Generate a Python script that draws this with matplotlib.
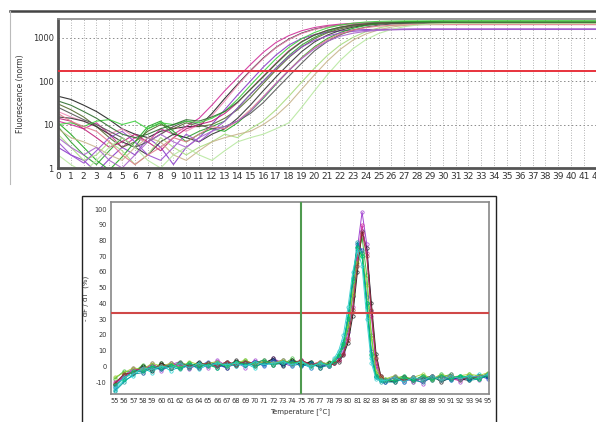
import numpy as np
import matplotlib
matplotlib.use('Agg')
import matplotlib.pyplot as plt
from matplotlib.lines import Line2D

plt.rcParams['font.family'] = ['Liberation Sans Narrow', 'DejaVu Sans']

# ---------------- amplification data (fluorescence per cycle 0..42) ----------------
cycles = list(range(43))
amp_colors = ['#222222', '#d0309a', '#30a030', '#8a3cc8', '#f08ab8', '#556b2f',
              '#333333', '#22aa22', '#c0207a', '#a8dc80', '#c8b48c', '#9b4fd0',
              '#555555', '#40d040', '#e07c8c', '#b8e8a0', '#2f6f2f', '#aa66cc']
amp_curves = [
    [45, 38, 28, 20, 13, 8, 6, 5, 7, 8, 9, 9, 18, 40, 85, 175, 340, 600, 930, 1280,
     1580, 1820, 1980, 2080, 2140, 2170, 2190, 2200, 2200, 2210, 2210, 2210, 2210, 2220, 2220, 2220,
     2220, 2220, 2220, 2230, 2230, 2230, 2230],
    [12, 10, 8, 11, 6, 3, 5, 4, 8, 6, 9, 14, 28, 60, 120, 240, 460, 780, 1120, 1450,
     1720, 1920, 2060, 2150, 2210, 2250, 2270, 2280, 2290, 2290, 2290, 2290, 2290, 2290, 2290, 2290,
     2290, 2290, 2290, 2290, 2290, 2290, 2290],
    [9, 4, 2, 1.2, 2.5, 5, 3, 8, 11, 6, 5, 7, 9, 12, 24, 50, 100, 200, 390, 680,
     1020, 1380, 1700, 1950, 2120, 2230, 2300, 2340, 2360, 2370, 2380, 2380, 2380, 2380, 2380, 2380,
     2380, 2380, 2380, 2380, 2380, 2380, 2380],
    [3, 2, 1.5, 0.8, 1.6, 3, 2, 5, 3, 1.2, 3, 5, 10, 22, 48, 100, 210, 400, 680, 960,
     1180, 1340, 1440, 1500, 1540, 1560, 1570, 1580, 1580, 1580, 1580, 1580, 1580, 1580, 1580, 1580,
     1580, 1580, 1580, 1580, 1580, 1580, 1580],
    [20, 15, 12, 9, 6, 8, 5, 4, 6, 9, 7, 10, 16, 35, 80, 170, 330, 590, 910, 1250,
     1550, 1790, 1950, 2050, 2110, 2140, 2160, 2170, 2170, 2180, 2180, 2180, 2180, 2180, 2180, 2180,
     2180, 2180, 2180, 2180, 2180, 2180, 2180],
    [30, 22, 15, 9, 5, 3, 4, 7, 10, 8, 11, 9, 10, 14, 22, 42, 88, 180, 350, 610,
     950, 1300, 1600, 1850, 2010, 2120, 2190, 2230, 2260, 2270, 2280, 2280, 2280, 2280, 2280, 2280,
     2280, 2280, 2280, 2280, 2280, 2280, 2280],
    [15, 14, 12, 9, 6, 4, 3, 2, 4, 6, 5, 4, 6, 8, 14, 28, 60, 125, 250, 480,
     800, 1150, 1480, 1750, 1950, 2070, 2140, 2180, 2200, 2210, 2210, 2210, 2210, 2210, 2210, 2210,
     2210, 2210, 2210, 2210, 2210, 2210, 2210],
    [11, 6, 3, 1.5, 0.9, 1.8, 4, 9, 12, 7, 4, 6, 8, 7, 11, 20, 40, 85, 175, 350,
     620, 960, 1320, 1650, 1920, 2100, 2220, 2300, 2350, 2380, 2400, 2400, 2400, 2400, 2400, 2400,
     2400, 2400, 2400, 2400, 2400, 2400, 2400],
    [14, 12, 8, 5, 3, 4, 6, 4, 2.5, 5, 8, 10, 12, 18, 32, 65, 130, 260, 500, 820,
     1160, 1480, 1740, 1940, 2070, 2150, 2200, 2230, 2240, 2250, 2250, 2250, 2250, 2250, 2250, 2250,
     2250, 2250, 2250, 2250, 2250, 2250, 2250],
    [6, 3, 1.5, 2, 4, 2.5, 1.2, 2, 5, 3, 2, 3, 4, 6, 5, 8, 12, 22, 45, 95,
     200, 390, 680, 1020, 1380, 1680, 1910, 2060, 2160, 2220, 2260, 2280, 2290, 2290, 2290, 2290,
     2290, 2290, 2290, 2290, 2290, 2290, 2290],
    [8, 5, 4, 3, 2, 1.5, 3, 5, 4, 2, 1.5, 2.5, 4, 5, 6, 7, 10, 16, 30, 65,
     140, 290, 540, 880, 1220, 1520, 1760, 1920, 2020, 2070, 2090, 2100, 2100, 2100, 2100, 2100,
     2100, 2100, 2100, 2100, 2100, 2100, 2100],
    [4, 2, 1.3, 2.5, 5, 7, 4, 2, 1.5, 3, 6, 4, 7, 12, 24, 50, 100, 200, 370, 610,
     870, 1100, 1280, 1400, 1470, 1510, 1530, 1540, 1550, 1550, 1550, 1550, 1550, 1550, 1550, 1550,
     1550, 1550, 1550, 1550, 1550, 1550, 1550],
    [25, 18, 13, 10, 7, 5, 3, 4, 6, 9, 12, 10, 8, 9, 12, 18, 32, 65, 130, 260,
     500, 820, 1170, 1500, 1760, 1950, 2070, 2140, 2180, 2200, 2200, 2200, 2200, 2200, 2200, 2200,
     2200, 2200, 2200, 2200, 2200, 2200, 2200],
    [10, 11, 9, 12, 13, 10, 12, 8, 11, 10, 12, 11, 14, 20, 38, 80, 165, 330, 600, 950,
     1320, 1680, 1960, 2160, 2300, 2380, 2420, 2440, 2450, 2450, 2450, 2450, 2450, 2450, 2450, 2450,
     2450, 2450, 2450, 2450, 2450, 2450, 2450],
    [18, 12, 9, 7, 4, 2, 1.2, 2, 3, 5, 4, 6, 9, 8, 12, 22, 44, 90, 180, 340,
     590, 900, 1220, 1500, 1710, 1850, 1930, 1970, 1990, 2000, 2000, 2000, 2000, 2000, 2000, 2000,
     2000, 2000, 2000, 2000, 2000, 2000, 2000],
    [2, 1.2, 0.8, 1.5, 3, 5, 3, 1.5, 1, 2, 3, 2, 1.5, 2.5, 4, 5, 6, 8, 11, 25,
     60, 140, 300, 560, 900, 1250, 1560, 1800, 1960, 2060, 2110, 2140, 2150, 2150, 2150, 2150,
     2150, 2150, 2150, 2150, 2150, 2150, 2150],
    [35, 28, 20, 14, 9, 6, 5, 6, 8, 10, 13, 12, 15, 20, 33, 64, 125, 250, 480, 800,
     1150, 1480, 1760, 1960, 2090, 2170, 2220, 2250, 2260, 2270, 2270, 2270, 2270, 2270, 2270, 2270,
     2270, 2270, 2270, 2270, 2270, 2270, 2270],
    [5, 3, 2, 3, 1.5, 1, 2, 4, 6, 4, 3, 5, 7, 9, 12, 20, 42, 88, 175, 330,
     560, 830, 1080, 1270, 1400, 1480, 1530, 1560, 1580, 1590, 1590, 1590, 1590, 1590, 1590, 1590,
     1590, 1590, 1590, 1590, 1590, 1590, 1590],
]
amp_threshold = 170

# ---------------- melt data (-dF/dT in %) ----------------
temps = list(range(55, 79)) + [78.5, 79, 79.5, 80, 80.5, 81, 81.5, 82, 82.5, 83, 83.5, 84] \
    + list(range(85, 96))
melt_colors = ['#9933cc', '#00cccc', '#33bb33', '#111111', '#2244cc', '#cc2299',
               '#99cc33', '#009999', '#993333', '#00cc66', '#33cccc']
melt_curves = [
    [-12, -6, -1, -4, 2, -3, 1, 3, -2, 2, -1, 4, 0, 3, -1, 4, 1, 5, 2, 0, 4, -1, 3, 0,
     2, 4, 9, 22, 45, 75, 98, 78, 35, 0, -8, -10,
     -6, -10, -7, -11, -6, -9, -5, -10, -6, -9, -5],
    [-15, -9, -6, -1, -4, 1, -3, 0, 2, -2, 1, -1, 3, 0, 2, -1, 3, 1, 4, 0, 2, -1, 2, 0,
     4, 8, 16, 32, 55, 76, 70, 38, 5, -7, -9, -9,
     -9, -6, -10, -7, -9, -5, -9, -6, -8, -5, -7],
    [-8, -3, -4, 1, -2, 2, -1, 3, 0, 2, 1, -1, 3, 1, 4, 0, 2, 4, 1, 5, 1, 3, 0, 3,
     3, 6, 12, 24, 45, 70, 82, 58, 20, -4, -8, -8,
     -8, -6, -9, -6, -8, -7, -5, -9, -5, -8, -4],
    [-11, -5, -4, 0, -3, 2, -1, 2, -1, 3, 0, 2, -1, 4, 1, 3, 2, 5, 0, 4, 1, 3, -1, 2,
     2, 3, 7, 15, 32, 60, 86, 75, 40, 8, -6, -9,
     -10, -7, -9, -8, -6, -10, -7, -8, -9, -6, -7],
    [-13, -7, -3, -3, 0, -2, 2, -1, 1, 0, 3, 1, -1, 2, 1, 3, 0, 4, 1, 3, 0, 2, 1, 0,
     3, 6, 13, 28, 52, 78, 74, 44, 10, -6, -9, -10,
     -7, -10, -7, -9, -8, -6, -9, -7, -8, -6, -8],
    [-10, -7, -2, -2, 1, -1, 2, 0, 2, -1, 2, 0, 3, 1, 3, 1, 3, 2, 4, 1, 4, 1, 3, 1,
     2, 4, 8, 18, 38, 68, 90, 72, 32, 2, -7, -9,
     -9, -7, -10, -6, -9, -6, -8, -9, -6, -7, -5],
    [-7, -4, -1, -2, 2, 0, 2, -1, 3, 1, 2, 3, 0, 2, 4, 1, 3, 2, 4, 2, 3, 0, 3, 1,
     4, 7, 14, 26, 46, 66, 72, 52, 18, -3, -7, -8,
     -6, -8, -7, -5, -8, -5, -7, -6, -5, -6, -4],
    [-16, -10, -5, -4, -1, -2, 0, -2, 1, -1, 2, -1, 2, 0, 3, 0, 2, 1, 2, 3, 0, 2, -1, 1,
     3, 7, 15, 31, 56, 79, 72, 40, 7, -7, -10, -10,
     -10, -8, -9, -10, -7, -9, -8, -6, -9, -8, -6],
    [-11, -5, -4, -1, -2, 1, -1, 2, 0, 1, 2, 0, 3, 1, 3, 2, 4, 1, 3, 2, 4, 1, 2, 0,
     2, 4, 8, 17, 36, 64, 85, 70, 36, 5, -6, -9,
     -7, -9, -7, -9, -6, -9, -6, -8, -7, -7, -5],
    [-12, -8, -3, -3, 0, -1, 1, -1, 2, 0, 1, 2, 0, 3, 1, 2, 4, 1, 3, 2, 3, 0, 2, 1,
     3, 7, 14, 30, 54, 76, 70, 40, 8, -6, -9, -9,
     -9, -7, -9, -6, -9, -6, -8, -6, -7, -8, -5],
    [-14, -7, -5, -1, -2, 0, -1, 2, -1, 2, 0, 2, 1, 2, 0, 3, 1, 2, 3, 1, 3, 0, 2, 0,
     5, 10, 20, 38, 60, 74, 64, 30, 2, -8, -9, -9,
     -7, -10, -7, -9, -6, -9, -6, -8, -6, -7, -5],
]
melt_threshold = 34
melt_marker_temp = 75

fig = plt.figure(figsize=(5.96, 4.22), dpi=100)
W, H = 596.0, 422.0

# ---------------- top panel ----------------
ax1 = fig.add_axes([58 / W, 1 - 168 / H, 540 / W, 149 / H])
for vals, col in zip(amp_curves, amp_colors):
    ax1.plot(cycles[:len(vals)], vals, color=col, lw=0.8, alpha=0.9)
ax1.axhline(amp_threshold, color='#e8323c', lw=1.4, zorder=5)
ax1.set_yscale('log')
ax1.set_ylim(1, 2700)
ax1.set_xlim(0, 42.1)
ax1.set_xticks(cycles)
ax1.set_xticklabels([str(c) for c in cycles], fontsize=6.5)
ax1.set_yticks([1, 10, 100, 1000])
ax1.set_yticklabels(['1', '10', '100', '1000'], fontsize=6)
ax1.yaxis.set_minor_locator(matplotlib.ticker.NullLocator())
ax1.tick_params(length=0, pad=3, colors='#333333')
for c in cycles[1:]:
    ax1.axvline(c, color='#9a9a9a', lw=0.6, ls=(0, (1, 2)), zorder=0)
for yv in [10, 100, 1000]:
    ax1.axhline(yv, color='#8a8a8a', lw=0.7, ls=(0, (1.5, 2.5)), zorder=0)
ax1.set_ylabel('Fluorescence (norm)', fontsize=5.5, labelpad=6, color='#333333')
for side in ['left', 'bottom']:
    ax1.spines[side].set_color('#555555')
    ax1.spines[side].set_linewidth(2)
ax1.spines['top'].set_color('#888888')
ax1.spines['top'].set_linewidth(1.2)
ax1.spines['right'].set_visible(False)

# outer frame of the top panel
fig.add_artist(Line2D([10 / W, 1], [1 - 10.5 / H] * 2, color='#444444', lw=1.8))
fig.add_artist(Line2D([10 / W] * 2, [1 - 10.5 / H, 1 - 184 / H], color='#bbbbbb', lw=0.8))

# ---------------- bottom panel ----------------
fig.add_artist(plt.Rectangle((82 / W, -0.01), 414 / W, 1 - 196 / H + 0.01,
                             fill=False, ec='#222222', lw=1.0))
ax2 = fig.add_axes([111 / W, 1 - 394 / H, 378 / W, 192 / H])
for vals, col in zip(melt_curves, melt_colors):
    ax2.plot(temps[:len(vals)], vals, color=col, lw=0.7, marker='o', ms=2.4,
             mfc='none', mew=0.5, alpha=0.9)
ax2.axhline(melt_threshold, color='#d04848', lw=1.5, zorder=5)
ax2.axvline(melt_marker_temp, color='#4f9a4f', lw=1.5, zorder=5)
ax2.set_xlim(54.6, 95.1)
ax2.set_ylim(-17.6, 104.5)
xt = list(range(55, 96))
ax2.set_xticks(xt)
ax2.set_xticklabels([str(t) for t in xt], fontsize=4.8)
ax2.set_yticks(list(range(-10, 101, 10)))
ax2.set_yticklabels([str(t) for t in range(-10, 101, 10)], fontsize=4.8)
ax2.tick_params(length=0, pad=3, colors='#333333')
ax2.set_ylabel('- dF / dT  (%)', fontsize=5, labelpad=4, color='#333333')
ax2.set_xlabel('Temperature [°C]', fontsize=5, labelpad=3, color='#333333')
for side in ax2.spines:
    ax2.spines[side].set_color('#888888')
    ax2.spines[side].set_linewidth(1.2)

fig.savefig('out.png', dpi=100)
